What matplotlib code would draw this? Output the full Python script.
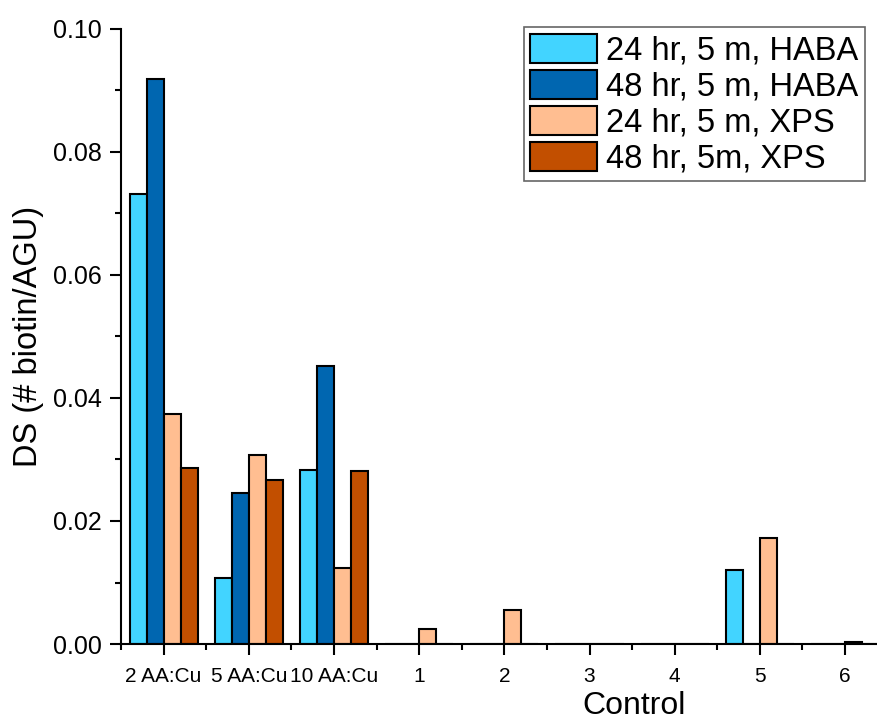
import matplotlib.pyplot as plt
import numpy as np
from matplotlib.ticker import MultipleLocator

plt.rcParams['font.family'] = ['Liberation Sans', 'DejaVu Sans']

# categorias del eje x
categorias = ["2 AA:Cu", "5 AA:Cu", "10 AA:Cu", "1", "2", "3", "4", "5", "6"]

# series (DS, # biotin/AGU)
series_nombres = ["24 hr, 5 m, HABA", "48 hr, 5 m, HABA", "24 hr, 5 m, XPS", "48 hr, 5m, XPS"]
haba_24 = [0.0732, 0.0108, 0.0283, 0, 0, 0, 0, 0.0120, 0]
haba_48 = [0.0918, 0.0245, 0.0452, 0, 0, 0, 0, 0, 0]
xps_24 = [0.0374, 0.0308, 0.0124, 0.0024, 0.0055, 0, 0, 0.0172, 0.0003]
xps_48 = [0.0286, 0.0266, 0.0281, 0, 0, 0, 0, 0, 0]

colores = ["#42D4FF", "#0066B0", "#FFBE91", "#C24F00"]

fig = plt.figure(figsize=(8.77, 7.22), dpi=100)
ax = fig.add_axes([0.138, 0.108, 0.862, 0.852])

x = np.arange(len(categorias))
ancho = 0.2
datos = [haba_24, haba_48, xps_24, xps_48]
for i, (vals, nombre, col) in enumerate(zip(datos, series_nombres, colores)):
    offset = (i - 1.5) * ancho
    ax.bar(x + offset, vals, ancho, color=col, edgecolor='black',
           linewidth=1.5, label=nombre)

ax.set_xlim(-0.5, 8.375)
ax.set_ylim(0, 0.10)
ax.set_xticks(x)
ax.set_xticklabels(categorias, fontsize=15)
ax.xaxis.set_minor_locator(MultipleLocator(0.5))
ax.yaxis.set_major_locator(MultipleLocator(0.02))
ax.yaxis.set_minor_locator(MultipleLocator(0.01))
ax.yaxis.set_major_formatter(plt.FormatStrFormatter('%.2f'))
ax.tick_params(axis='y', labelsize=18)
ax.tick_params(which='major', direction='out', length=8, width=1.5, pad=6)
ax.tick_params(axis='x', which='major', pad=8.5)
ax.tick_params(which='minor', direction='out', length=4, width=1.5)

for lado in ['top', 'right']:
    ax.spines[lado].set_visible(False)
for lado in ['left', 'bottom']:
    ax.spines[lado].set_linewidth(1.5)

ax.set_xlabel("Control", fontsize=23)
ax.xaxis.set_label_coords(0.679, -0.077)
ax.set_ylabel("DS (# biotin/AGU)", fontsize=23.5, labelpad=6)

ley = ax.legend(loc='upper right', bbox_to_anchor=(0.984, 1.003), borderaxespad=0,
                fontsize=23.5, fancybox=False, edgecolor='#666666', framealpha=1,
                handlelength=2.05, handleheight=1.0, labelspacing=0.1,
                handletextpad=0.28, borderpad=0.2)
ley.get_frame().set_linewidth(1.2)

plt.savefig("out.png", dpi=100)
